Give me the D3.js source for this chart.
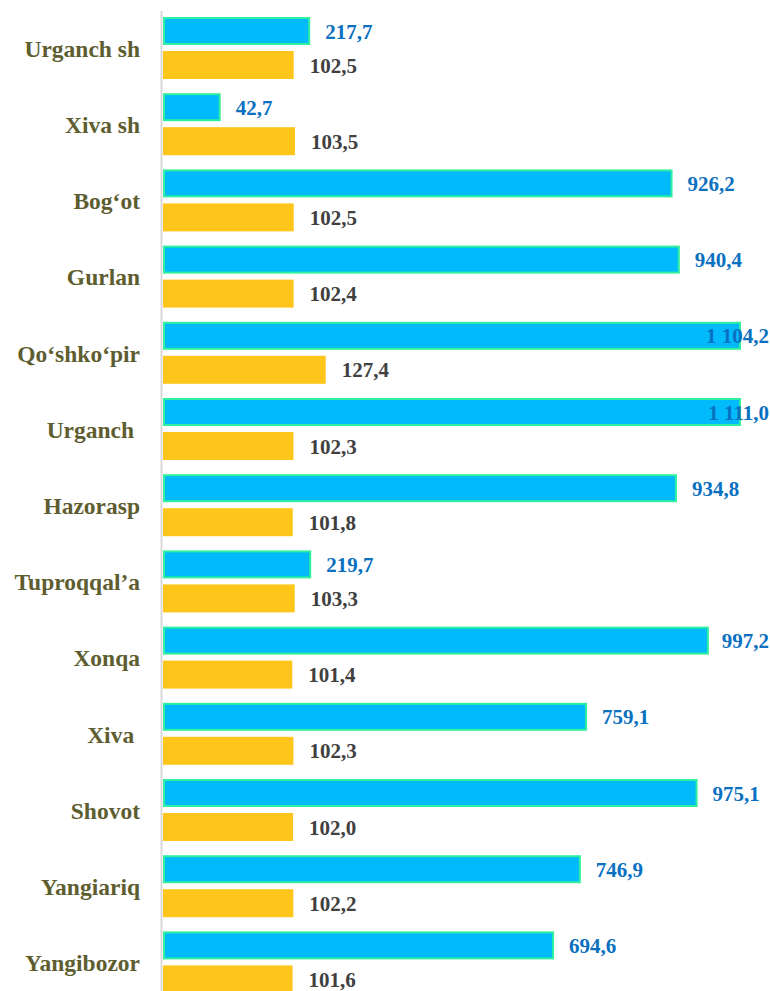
<!DOCTYPE html>
<html>
<head>
<meta charset="utf-8">
<script src="https://cdn.jsdelivr.net/npm/d3@7"></script>
<style>
  body { margin: 0; background: #fff; }
  svg { display: block; }
</style>
</head>
<body>
<svg width="770" height="991"></svg>
<script>
// districts (trailing spaces kept as in the source labels)
const districts = ["Urganch sh", "Xiva sh", "Bog‘ot", "Gurlan", "Qo‘shko‘pir", "Urganch ",
  "Hazorasp", "Tuproqqal’a", "Xonqa", "Xiva ", "Shovot", "Yangiariq", "Yangibozor"];
const blueValues = [217.7, 42.7, 926.2, 940.4, 1104.2, 1111.0, 934.8, 219.7, 997.2, 759.1, 975.1, 746.9, 694.6];
const yellowValues = [102.5, 103.5, 102.5, 102.4, 127.4, 102.3, 101.8, 103.3, 101.4, 102.3, 102.0, 102.2, 101.6];

const svg = d3.select("svg");
const width = +svg.attr("width");

const FONT = "Liberation Serif";
const axisX = 162;
const fmt = v => d3.format(",.1f")(v).replace(/,/g, " ").replace(".", ",");

const rows = districts.map((d, i) => ({ name: d, blue: blueValues[i], yellow: yellowValues[i] }));

// category bands
const y = d3.scaleBand()
  .domain(districts)
  .range([10.5, 10.5 + 76.2 * districts.length])
  .padding(0);

const sub = d3.scaleBand()
  .domain(["blue", "yellow"])
  .range([6.5, 68.5])
  .paddingInner(0.1765);

// two value axes (blue on primary, yellow on secondary)
const xBlue = d3.scaleLinear().domain([-72, 1060]).range([axisX, 741]).clamp(true);
const xYellow = d3.scaleLinear().domain([0, 100]).range([axisX, 290.5]);

const g = svg.append("g");

const row = g.selectAll(".row")
  .data(rows)
  .enter().append("g")
  .attr("class", "row")
  .attr("transform", d => `translate(0,${y(d.name)})`);

// blue bars
row.append("rect")
  .attr("x", axisX + 2)
  .attr("y", sub("blue") + 1)
  .attr("width", d => xBlue(d.blue) - axisX - 3)
  .attr("height", sub.bandwidth() - 2)
  .attr("fill", "#00BAFC")
  .attr("stroke", "#2EF09E")
  .attr("stroke-width", 2);

// yellow bars
row.append("rect")
  .attr("x", axisX + 1)
  .attr("y", sub("yellow"))
  .attr("width", d => xYellow(d.yellow) - axisX - 1)
  .attr("height", sub.bandwidth())
  .attr("fill", "#FEC61B");

// labels
row.append("text")
  .style("font-family", FONT)
  .style("font-weight", "bold")
  .style("font-size", "21px")
  .attr("y", sub("blue") + sub.bandwidth() / 2)
  .attr("dy", "0.36em")
  .attr("fill", "#0A70C0")
  .text(d => fmt(d.blue))
  .attr("x", function(d) {
    const w = this.getComputedTextLength();
    return Math.min(xBlue(d.blue) + 15, width - w - 1);
  });

row.append("text")
  .style("font-family", FONT)
  .style("font-weight", "bold")
  .style("font-size", "21px")
  .attr("y", sub("yellow") + sub.bandwidth() / 2)
  .attr("dy", "0.36em")
  .attr("x", d => xYellow(d.yellow) + 16)
  .attr("fill", "#404040")
  .text(d => fmt(d.yellow));

// category axis
const axis = svg.append("g")
  .attr("transform", `translate(${axisX - 1},0)`)
  .call(d3.axisLeft(y).tickSize(0).tickPadding(21));

axis.select(".domain")
  .attr("stroke", "#D9D9D9")
  .attr("stroke-width", 2);

axis.selectAll("text")
  .attr("fill", "#5E5D30")
  .attr("dy", "0.35em")
  .style("white-space", "pre")
  .style("font-family", FONT)
  .style("font-weight", "bold")
  .style("font-size", "23.5px");
</script>
</body>
</html>
